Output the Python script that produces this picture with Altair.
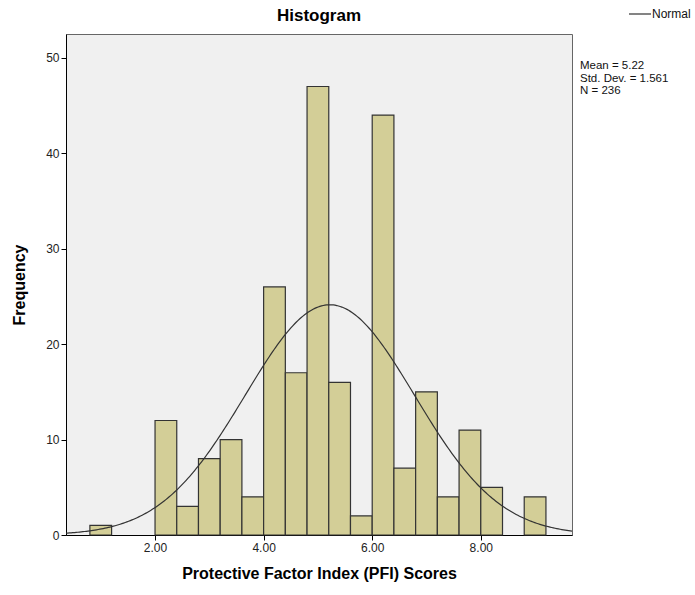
import altair as alt
import numpy as np
import pandas as pd

bin_start = [0.8, 2.0, 2.4, 2.8, 3.2, 3.6, 4.0, 4.4, 4.8, 5.2, 5.6, 6.0, 6.4, 6.8, 7.2, 7.6, 8.0, 8.8]
bin_end   = [1.2, 2.4, 2.8, 3.2, 3.6, 4.0, 4.4, 4.8, 5.2, 5.6, 6.0, 6.4, 6.8, 7.2, 7.6, 8.0, 8.4, 9.2]
counts    = [1, 12, 3, 8, 10, 4, 26, 17, 47, 16, 2, 44, 7, 15, 4, 11, 5, 4]

mean = 5.22
sd = 1.561
n = 236
bin_width = 0.4
x_ticks = [2, 4, 6, 8]
y_ticks = [0, 10, 20, 30, 40, 50]
stats_lines = ["Mean = 5.22", "Std. Dev. = 1.561", "N = 236"]

XMIN, XMAX = 0.36, 9.68
YMAX = 52.5

bars_df = pd.DataFrame({"start": bin_start, "end": bin_end, "count": counts})
xs = np.linspace(XMIN, XMAX, 300)
curve_df = pd.DataFrame({
    "x": xs,
    "y": n * bin_width / (sd * np.sqrt(2 * np.pi)) * np.exp(-0.5 * ((xs - mean) / sd) ** 2),
})

FONT = "Liberation Sans"
xscale = alt.Scale(domain=[XMIN, XMAX], nice=False, zero=False)
yscale = alt.Scale(domain=[0, YMAX], nice=False)

xaxis = alt.Axis(values=x_ticks, format=".2f", title="Protective Factor Index (PFI) Scores",
                 grid=False, tickSize=5, labelFontSize=12, titleFontSize=16, titleFontWeight="bold",
                 titlePadding=12, domainColor="black", tickColor="black", labelColor="#222",
                 labelFont=FONT, titleFont=FONT, titleColor="black")
yaxis = alt.Axis(values=y_ticks, title="Frequency", grid=False, tickSize=5, labelFontSize=12,
                 titleFontSize=16, titleFontWeight="bold", titlePadding=18, domainColor="black",
                 tickColor="black", labelColor="#222", labelFont=FONT, titleFont=FONT, titleColor="black")

bars = alt.Chart(bars_df).mark_rect(fill="#d3ce97", stroke="#333333", strokeWidth=1.2).encode(
    x=alt.X("start:Q", scale=xscale, axis=xaxis),
    x2="end:Q",
    y=alt.Y("count:Q", scale=yscale, axis=yaxis),
    y2=alt.datum(0),
)

curve = alt.Chart(curve_df).mark_line(color="#333333", strokeWidth=1.2).encode(
    x=alt.X("x:Q", scale=xscale),
    y=alt.Y("y:Q", scale=yscale),
)

stats = alt.Chart(pd.DataFrame({"t": ["\n".join(stats_lines)]})).mark_text(
    align="left", baseline="top", fontSize=11.5, font=FONT, color="#111", lineBreak="\n", lineHeight=12.5
).encode(x=alt.value(514), y=alt.value(26), text="t:N")

legend_line = alt.Chart(pd.DataFrame({"a": [0]})).mark_rule(color="#333333", strokeWidth=1.2).encode(
    x=alt.value(563), x2=alt.value(585), y=alt.value(-20)
)
legend_text = alt.Chart(pd.DataFrame({"t": ["Normal"]})).mark_text(
    align="left", baseline="middle", fontSize=12, font=FONT, color="#111").encode(
    x=alt.value(586), y=alt.value(-20), text="t:N"
)

title = alt.Chart(pd.DataFrame({"t": ["Histogram"]})).mark_text(
    align="center", baseline="middle", fontSize=17, font=FONT, fontWeight="bold", color="black").encode(
    x=alt.value(253), y=alt.value(-18), text="t:N"
)

chart = alt.layer(bars, curve, stats, legend_line, legend_text, title).properties(
    width=506, height=501,
    background="white",
    autosize=alt.AutoSizeParams(type="none"),
    padding={"left": 66, "top": 34, "right": 123, "bottom": 60},
).configure_view(fill="#f0f0f0", stroke="#666666", strokeWidth=1)

chart.save("out.html", embed_options={"renderer": "svg", "actions": False})
